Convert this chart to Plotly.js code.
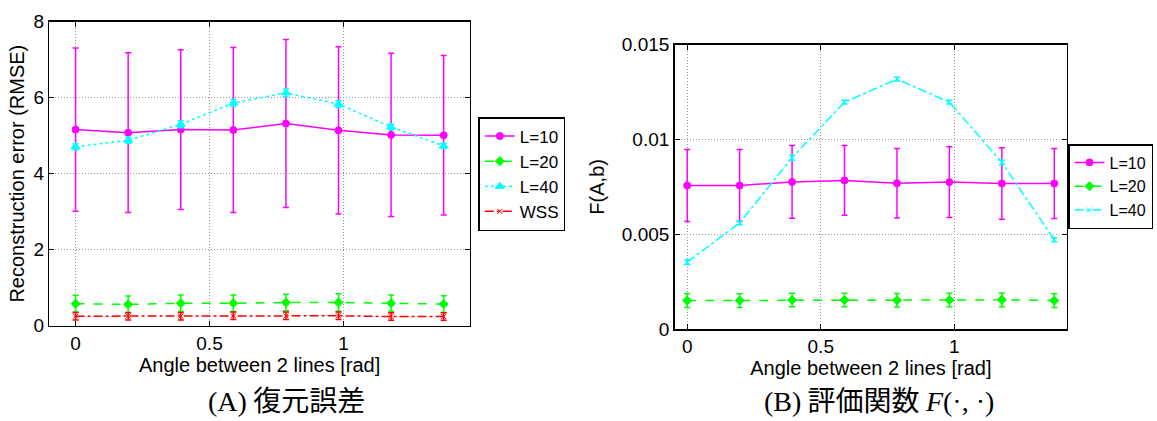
<!DOCTYPE html>
<html>
<head>
<meta charset="utf-8">
<script src="https://cdn.plot.ly/plotly-3.0.1.min.js"></script>
<style>
  html, body { margin: 0; padding: 0; background: #fff; }
  #chart { width: 1157px; height: 421px; }
</style>
</head>
<body>
<div id="chart"></div>
<script>
// Angles between 2 lines [rad] (k*pi/16)
const angles = [0, 0.1963, 0.3927, 0.5890, 0.7854, 0.9817, 1.1781, 1.3744];

// (A) Reconstruction error (RMSE)
const rmseL10 = [5.16, 5.08, 5.16, 5.15, 5.32, 5.14, 5.02, 5.01];
const rmseL10Err = [2.15, 2.10, 2.10, 2.17, 2.21, 2.20, 2.15, 2.10];
const rmseL20 = [0.58, 0.56, 0.59, 0.59, 0.61, 0.61, 0.59, 0.57];
const rmseL20Err = [0.22, 0.22, 0.22, 0.22, 0.22, 0.23, 0.22, 0.22];
const rmseL40 = [4.71, 4.88, 5.30, 5.86, 6.13, 5.83, 5.23, 4.73];
const rmseL40Err = [0.08, 0.08, 0.09, 0.09, 0.10, 0.09, 0.08, 0.07];
const rmseWSS = [0.25, 0.25, 0.25, 0.26, 0.26, 0.26, 0.24, 0.24];
const rmseWSSErr = [0.10, 0.10, 0.10, 0.10, 0.10, 0.10, 0.10, 0.10];

// (B) Evaluation function F(A,b)
const fL10 = [0.00757, 0.00757, 0.00776, 0.00784, 0.00769, 0.00775, 0.00768, 0.00768];
const fL10Err = [0.00190, 0.00190, 0.00192, 0.00184, 0.00183, 0.00186, 0.00189, 0.00185];
const fL20 = [0.00150, 0.00150, 0.00153, 0.00153, 0.00152, 0.00153, 0.00154, 0.00150];
const fL20Err = [0.00036, 0.00036, 0.00036, 0.00036, 0.00036, 0.00036, 0.00036, 0.00036];
const fL40 = [0.00353, 0.00560, 0.00904, 0.01197, 0.01318, 0.01197, 0.00879, 0.00471];
const fL40Err = [0.00013, 0.00010, 0.00013, 0.00010, 0.00010, 0.00010, 0.00012, 0.00010];

// labels
const xTickVals = [0, 0.5, 1];
const xTickText = ['0', '0.5', '1'];
const yTickValsA = [0, 2, 4, 6, 8];
const yTickTextA = ['0', '2', '4', '6', '8'];
const yTickValsB = [0, 0.005, 0.01, 0.015];
const yTickTextB = ['0', '0.005', '0.01', '0.015'];
const seriesNames = ['L=10', 'L=20', 'L=40', 'WSS'];

const MAG = '#ff00ff', GRN = '#00ff00', CYN = '#00ffff', RED = '#ff0000';

function tr(x, y, err, name, color, dash, symbol, msize, xa, ya, leg) {
  return {
    type: 'scatter', mode: 'lines+markers', x: x, y: y, name: name,
    xaxis: xa, yaxis: ya, legend: leg,
    line: { color: color, width: 1.5, dash: dash },
    marker: { color: color, symbol: symbol, size: msize, line: { color: color, width: 1 } },
    error_y: { type: 'data', array: err, visible: true, color: color, thickness: 1.5, width: 3 }
  };
}

const data = [
  tr(angles, rmseL10, rmseL10Err, seriesNames[0], MAG, 'solid', 'circle', 7, 'x', 'y', 'legend'),
  tr(angles, rmseL20, rmseL20Err, seriesNames[1], GRN, 'dash', 'diamond', 7, 'x', 'y', 'legend'),
  tr(angles, rmseL40, rmseL40Err, seriesNames[2], CYN, 'dot', 'triangle-up', 8, 'x', 'y', 'legend'),
  tr(angles, rmseWSS, rmseWSSErr, seriesNames[3], RED, 'dashdot', 'x-thin', 5, 'x', 'y', 'legend'),
  tr(angles, fL10, fL10Err, seriesNames[0], MAG, 'solid', 'circle', 7, 'x2', 'y2', 'legend2'),
  tr(angles, fL20, fL20Err, seriesNames[1], GRN, 'dash', 'diamond', 7, 'x2', 'y2', 'legend2'),
  tr(angles, fL40, fL40Err, seriesNames[2], CYN, 'dashdot', 'x-thin', 5, 'x2', 'y2', 'legend2')
];

const FONT = 'Liberation Sans, Arial, sans-serif';
const axBase = {
  showline: true, linecolor: '#000', linewidth: 1.5, mirror: 'ticks',
  ticks: 'inside', ticklen: 5, tickcolor: '#000', tickwidth: 1,
  showgrid: true, gridcolor: '#9a9a9a', griddash: '1px,2px', gridwidth: 1,
  zeroline: false, automargin: false,
  tickfont: { family: FONT, size: 19, color: '#000' }
};

const layout = {
  width: 1157, height: 421,
  margin: { l: 0, r: 0, t: 0, b: 0 },
  paper_bgcolor: '#fff', plot_bgcolor: '#fff',
  font: { family: FONT, color: '#000' },
  showlegend: true,
  xaxis: Object.assign({}, axBase, {
    domain: [0.0426, 0.4062], range: [-0.0982, 1.4726], anchor: 'y',
    tickvals: xTickVals, ticktext: xTickText,
    title: { text: 'Angle between 2 lines [rad]', font: { family: FONT, size: 20 }, standoff: 0 }
  }),
  yaxis: Object.assign({}, axBase, {
    domain: [0.2264, 0.9485], range: [0, 8], anchor: 'x',
    tickvals: yTickValsA, ticktext: yTickTextA,
    title: { text: 'Reconstruction error (RMSE)', font: { family: FONT, size: 20 }, standoff: 3 }
  }),
  xaxis2: Object.assign({}, axBase, {
    domain: [0.5831, 0.9222], range: [-0.047, 1.422], anchor: 'y2',
    tickvals: xTickVals, ticktext: xTickText,
    title: { text: 'Angle between 2 lines [rad]', font: { family: FONT, size: 20 }, standoff: 0 }
  }),
  yaxis2: Object.assign({}, axBase, {
    domain: [0.2185, 0.8938], range: [0, 0.015], anchor: 'x2',
    tickvals: yTickValsB, ticktext: yTickTextB,
    title: { text: 'F(A,b)', font: { family: FONT, size: 20 }, standoff: 12 }
  }),
  legend: {
    x: 0.4134, y: 1 - 174 / 421, xanchor: 'left', yanchor: 'middle',
    bgcolor: '#fff', bordercolor: '#000', borderwidth: 1.5,
    font: { family: FONT, size: 17, color: '#000' }, itemwidth: 30, tracegroupgap: 0
  },
  legend2: {
    x: 1153 / 1157, y: 1 - 186.5 / 421, xanchor: 'right', yanchor: 'middle',
    bgcolor: '#fff', bordercolor: '#000', borderwidth: 1.5,
    font: { family: FONT, size: 16, color: '#000' }, itemwidth: 30, tracegroupgap: 0
  },
  annotations: [
    {
      xref: 'paper', yref: 'paper', x: 0.248, y: 1 - 399 / 421, xanchor: 'center', yanchor: 'middle',
      showarrow: false,
      text: '<span style="font-family:Liberation Serif, serif">(A)</span> <span style="font-family:Noto Sans CJK JP">復元誤差</span>',
      font: { size: 28, color: '#000', family: 'Noto Sans CJK JP' }
    },
    {
      xref: 'paper', yref: 'paper', x: 0.760, y: 1 - 399 / 421, xanchor: 'center', yanchor: 'middle',
      showarrow: false,
      text: '<span style="font-family:Liberation Serif, serif">(B)</span> <span style="font-family:Noto Sans CJK JP">評価関数</span> <span style="font-family:Liberation Serif, serif"><i>F</i>(·, ·)</span>',
      font: { size: 28, color: '#000', family: 'Noto Sans CJK JP' }
    }
  ]
};

Plotly.newPlot('chart', data, layout, { staticPlot: true, displayModeBar: false });
</script>
</body>
</html>
